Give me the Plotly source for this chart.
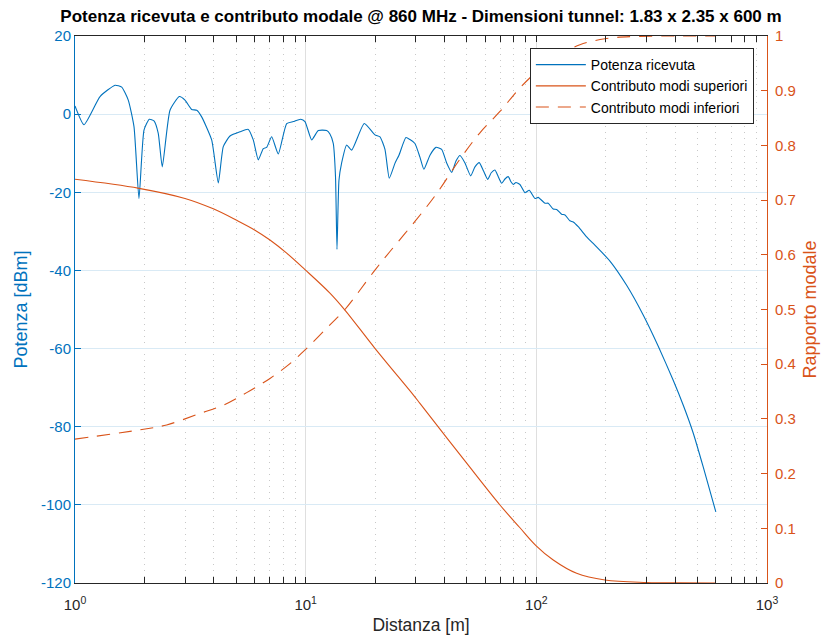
import plotly.graph_objects as go

# Received power along the tunnel
distanza_potenza = [
    1.000, 1.094, 1.284, 1.491, 1.594, 1.702, 1.802, 1.894, 1.991, 2.099,
    2.200, 2.296, 2.390, 2.581, 2.832, 2.998, 3.205, 3.370, 3.541, 3.913,
    4.181, 4.394, 4.697, 5.191, 5.639, 5.928, 6.232, 6.551, 6.776, 7.122,
    7.608, 8.273, 8.837, 9.513, 9.931, 10.62, 11.34, 12.33, 12.74, 13.17,
    13.47, 13.67, 13.94, 14.32, 15.06, 15.83, 17.95, 19.97, 21.00, 22.07,
    23.04, 24.38, 25.38, 27.21, 28.32, 29.77, 31.29, 32.56, 34.58, 36.72,
    38.87, 40.86, 42.96, 44.84, 46.66, 49.05, 51.91, 54.19, 56.56, 58.98,
    61.51, 63.76, 66.15, 68.39, 70.74, 73.11, 75.56, 77.62, 79.42, 81.58,
    84.91, 89.25, 93.16, 98.61, 101.9, 109.0, 112.6, 118.4, 122.5, 128.7,
    133.1, 139.8, 144.5, 151.9, 165.2, 176.4, 208.5, 246.3, 290.6, 337.7,
    392.1, 433.5, 478.7, 529.0, 600.0,
]
potenza_dbm = [
    2.1, -2.7, 4.5, 7.4, 6.9, 3.6, -3.2, -21.6, -4.1, -1.3,
    -1.7, -4.9, -13.5, 1.0, 4.5, 3.6, 1.2, 1.0, -0.7, -6.6,
    -17.6, -8.3, -5.6, -4.5, -3.9, -6.6, -11.7, -8.8, -8.5, -5.8,
    -10.2, -2.4, -1.9, -1.3, -1.9, -6.6, -4.2, -4.2, -5.1, -7.5,
    -16.0, -34.6, -17.0, -12.5, -7.9, -9.2, -2.4, -5.3, -5.8, -9.0,
    -16.4, -12.6, -10.5, -6.0, -6.5, -7.5, -11.0, -14.1, -10.5, -8.5,
    -9.0, -12.5, -14.9, -12.0, -10.6, -12.5, -15.8, -13.5, -12.4, -14.5,
    -16.7, -15.0, -14.3, -16.0, -17.7, -16.6, -16.0, -17.3, -18.0, -17.5,
    -18.0, -20.1, -19.5, -21.6, -21.3, -22.8, -22.8, -24.3, -24.4, -25.6,
    -25.8, -27.3, -27.6, -28.8, -31.4, -33.1, -37.6, -43.8, -51.4, -59.4,
    -68.1, -74.5, -81.6, -90.3, -101.8,
]

# Higher-order modes share
distanza_superiori = [
    1.000, 1.894, 2.998, 3.977, 5.022, 6.029, 7.003, 8.275, 9.931, 12.74,
    14.80, 19.97, 29.27, 31.29, 49.89, 69.54, 84.91, 99.6, 118.4, 149.5,
    198.3, 300.8, 419.4, 600.0,
]
contributo_superiori = [
    0.738, 0.7215, 0.703, 0.684, 0.663, 0.645, 0.627, 0.603, 0.573, 0.530,
    0.499, 0.429, 0.344, 0.3285, 0.219, 0.1426, 0.101, 0.0685, 0.042, 0.0177,
    0.0055, 0.001, 0.0002, 0.0,
]

# Lower-order modes share
distanza_inferiori = [
    1.000, 1.913, 2.497, 3.482, 4.394, 5.551, 7.003, 8.550, 10.10, 12.74,
    14.80, 19.97, 23.20, 29.77, 36.97, 46.66, 56.96, 69.54, 84.91, 103.7,
    126.6, 154.5, 198.3, 262.2, 419.4, 600.0,
]
contributo_inferiori = [
    0.263, 0.280, 0.289, 0.310, 0.325, 0.348, 0.374, 0.401, 0.429, 0.472,
    0.500, 0.572, 0.606, 0.661, 0.712, 0.775, 0.823, 0.862, 0.905, 0.940,
    0.966, 0.984, 0.995, 0.999, 1.0, 1.0,
]

tick_potenza = [20, 0, -20, -40, -60, -80, -100, -120]
tick_potenza_text = ["20", "0", "-20", "-40", "-60", "-80", "-100", "-120"]
tick_distanza = [1, 10, 100, 1000]
tick_distanza_text = ["10<sup>0</sup>", "10<sup>1</sup>", "10<sup>2</sup>", "10<sup>3</sup>"]

BLU = "#0072BD"
ARANCIO = "#D95319"
SCURO = "#262626"
FONT = "Liberation Sans, Arial, sans-serif"

fig = go.Figure()
fig.add_trace(go.Scatter(
    x=distanza_potenza, y=potenza_dbm, mode="lines", name="Potenza ricevuta",
    line=dict(color=BLU, width=1.1, shape="spline", smoothing=0.5), yaxis="y",
))
fig.add_trace(go.Scatter(
    x=distanza_superiori, y=contributo_superiori, mode="lines",
    name="Contributo modi superiori",
    line=dict(color=ARANCIO, width=1.1, shape="spline", smoothing=1.0),
    yaxis="y2",
))
fig.add_trace(go.Scatter(
    x=distanza_inferiori, y=contributo_inferiori, mode="lines",
    name="Contributo modi inferiori",
    line=dict(color=ARANCIO, width=1.1, dash="13px,9px", shape="spline", smoothing=1.0),
    yaxis="y2",
))

fig.update_layout(
    width=822, height=642,
    margin=dict(l=75, r=55, t=36, b=59, autoexpand=False),
    paper_bgcolor="white", plot_bgcolor="white",
    font=dict(family=FONT, size=14, color=SCURO),
    title=dict(
        text="<b>Potenza ricevuta e contributo modale @ 860 MHz - Dimensioni tunnel: 1.83 x 2.35 x 600 m</b>",
        x=0.5, xref="paper", xanchor="center",
        y=1 - 16.5 / 642, yref="container", yanchor="middle",
        font=dict(family=FONT, size=17, color="black"),
    ),
    xaxis=dict(
        type="log", range=[0, 3], automargin=False,
        tickvals=tick_distanza, ticktext=tick_distanza_text,
        ticks="inside", ticklen=6, tickcolor=SCURO,
        showline=True, linecolor=SCURO, linewidth=1, mirror="allticks",
        showgrid=True, gridcolor="#dfdfdf", gridwidth=1,
        zeroline=False, ticklabelstandoff=8,
        minor=dict(dtick="D1", ticks="inside", ticklen=5, tickcolor=SCURO,
                   showgrid=True, gridcolor="#c8c8c8", griddash="1px,5px", gridwidth=1),
        tickfont=dict(size=15, color=SCURO),
        title=dict(text="Distanza [m]", font=dict(size=17.5, color=SCURO), standoff=6),
    ),
    yaxis=dict(
        range=[-120, 20], tickvals=tick_potenza, ticktext=tick_potenza_text,
        automargin=False,
        ticks="inside", ticklen=6, tickcolor=BLU,
        showline=True, linecolor=BLU, linewidth=1,
        showgrid=True, gridcolor="#d9eaf5", gridwidth=1, zeroline=False,
        tickfont=dict(size=15, color=BLU),
        title=dict(text="Potenza [dBm]", font=dict(size=18, color=BLU), standoff=8),
    ),
    yaxis2=dict(
        range=[0, 1], dtick=0.1, tick0=0, overlaying="y", side="right",
        automargin=False,
        ticks="inside", ticklen=6, tickcolor=ARANCIO,
        showline=True, linecolor=ARANCIO, linewidth=1,
        showgrid=False, zeroline=False, ticklabelstandoff=4,
        tickfont=dict(size=15, color=ARANCIO),
        title=dict(text="Rapporto modale", font=dict(size=18, color=ARANCIO), standoff=8),
    ),
    legend=dict(
        x=0.981, xanchor="right", y=0.978, yanchor="top",
        bgcolor="white", bordercolor=SCURO, borderwidth=1,
        font=dict(size=14, color="black"), tracegroupgap=0, itemwidth=50,
    ),
    showlegend=True,
)

fig.write_html("out.html")
